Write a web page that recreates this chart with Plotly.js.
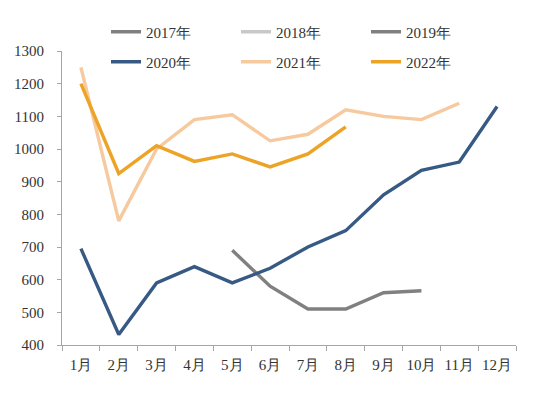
<!DOCTYPE html>
<html>
<head>
<meta charset="utf-8">
<script src="https://cdn.plot.ly/plotly-3.0.1.min.js"></script>
<style>html,body{margin:0;padding:0;background:#fff;}#chart{width:550px;height:394px;}</style>
</head>
<body>
<div id="chart"></div>
<script>
var months = ['1月','2月','3月','4月','5月','6月','7月','8月','9月','10月','11月','12月'];
var seriesNames = ['2017年','2018年','2019年','2020年','2021年','2022年'];
var y2017 = [null,null,null,null,null,null,null,null,null,null,null,null];
var y2018 = [null,null,null,null,null,null,null,null,null,null,null,null];
var y2019 = [null,null,null,null,690,580,510,510,560,566,null,null];
var y2020 = [695,432,590,640,590,635,700,750,860,935,960,1130];
var y2021 = [1250,780,1000,1090,1105,1025,1045,1120,1100,1090,1140,null];
var y2022 = [1200,925,1010,962,985,945,985,1068,null,null,null,null];
var yTicks = [400,500,600,700,800,900,1000,1100,1200,1300];

var colors = ['#808080','#c8c8c8','#808080','#375a84','#f6c99e','#eca326'];
var data = [y2017,y2018,y2019,y2020,y2021,y2022];
var fontFam = "Liberation Serif, serif";

var legendIds = ['legend','legend2','legend3','legend4','legend5','legend6'];
var traces = data.map(function(d,i){
  return {
    x: months, y: d, name: seriesNames[i], type: 'scatter', mode: 'lines',
    line: {color: colors[i], width: 3.4},
    legend: legendIds[i],
    connectgaps: false, hoverinfo: 'x+y+name'
  };
});

var layout = {
  width: 550, height: 394,
  margin: {l: 62, r: 34, t: 51, b: 49, autoexpand: false},
  paper_bgcolor: '#fff', plot_bgcolor: '#fff',
  font: {family: fontFam, size: 15, color: '#333'},
  showlegend: true,
  xaxis: {
    type: 'category', tickson: 'boundaries', ticks: 'outside', ticklen: 5,
    tickcolor: '#a6a6a6', showline: true, linecolor: '#a6a6a6', linewidth: 1,
    showgrid: false, zeroline: false, fixedrange: true, tickangle: 0,
    range: [-0.5, 11.5], ticklabelstandoff: 6, automargin: false,
    tickfont: {family: fontFam, size: 15, color: '#333'}
  },
  yaxis: {
    range: [400, 1300], tickvals: yTicks, ticks: 'outside', ticklen: 4,
    tickcolor: '#a6a6a6', showline: true, linecolor: '#a6a6a6', linewidth: 1,
    showgrid: false, zeroline: false, fixedrange: true, ticklabelstandoff: 10,
    automargin: false,
    tickfont: {family: fontFam, size: 15, color: '#333'}
  }
};

var colX = [106, 236, 366];
var rowY = [32, 62];
legendIds.forEach(function(id, i){
  layout[id] = {
    orientation: 'h', xref: 'container', yref: 'container',
    xanchor: 'left', yanchor: 'middle',
    x: colX[i % 3] / 550, y: 1 - rowY[Math.floor(i / 3)] / 394,
    font: {family: fontFam, size: 15, color: '#333'},
    bgcolor: 'rgba(0,0,0,0)', borderwidth: 0
  };
});

Plotly.newPlot('chart', traces, layout, {displayModeBar: false, staticPlot: true});
</script>
</body>
</html>
